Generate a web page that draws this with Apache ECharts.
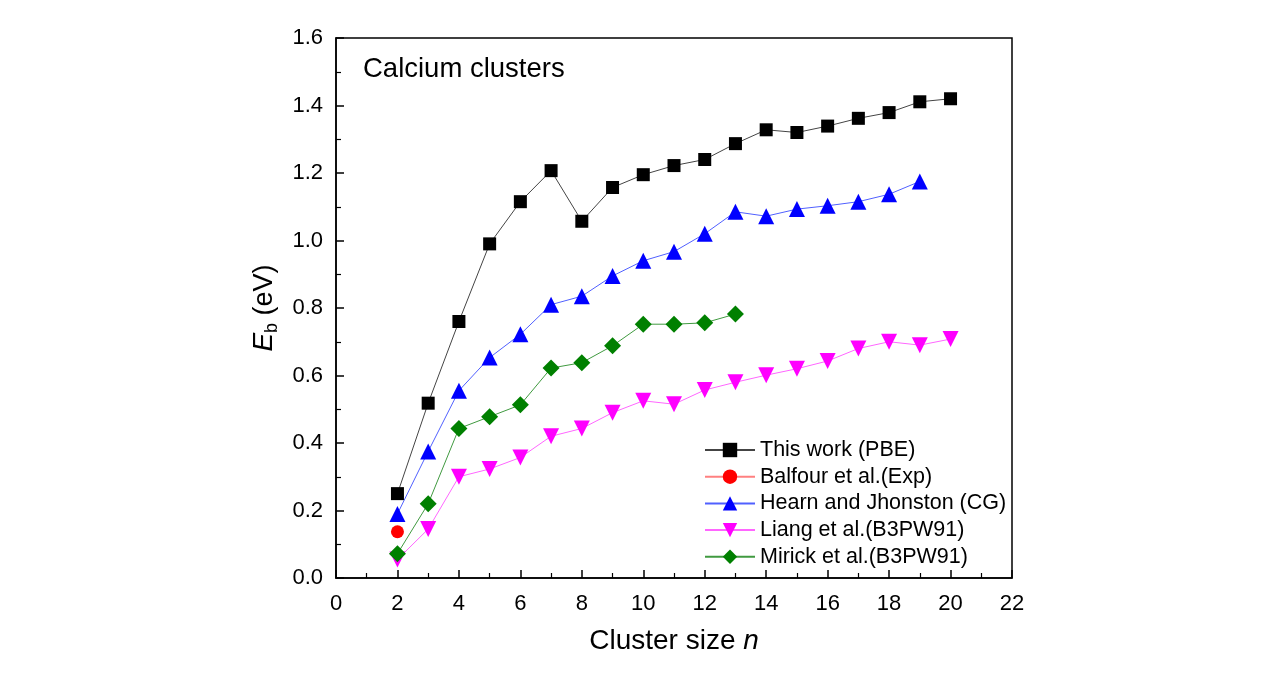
<!DOCTYPE html>
<html>
<head>
<meta charset="utf-8">
<script src="https://cdn.jsdelivr.net/npm/echarts@6/dist/echarts.min.js"></script>
<style>
  html, body { margin: 0; padding: 0; background: #fff; }
  #chart { width: 1271px; height: 673px; }
</style>
</head>
<body>
<div id="chart"></div>
<script>
// cluster sizes n
const sizes = [2, 3, 4, 5, 6, 7, 8, 9, 10, 11, 12, 13, 14, 15, 16, 17, 18, 19, 20];
// binding energies (eV)
const thisWork = [0.25, 0.518, 0.76, 0.99, 1.115, 1.207, 1.057, 1.157, 1.195, 1.222, 1.24, 1.287, 1.328, 1.32, 1.339, 1.362, 1.379, 1.411, 1.42];
const balfour = [0.137];
const hearn = [0.19, 0.375, 0.555, 0.653, 0.722, 0.81, 0.835, 0.895, 0.94, 0.967, 1.02, 1.085, 1.072, 1.093, 1.103, 1.115, 1.137, 1.175];
const liang = [0.055, 0.145, 0.30, 0.323, 0.357, 0.42, 0.443, 0.49, 0.525, 0.515, 0.557, 0.58, 0.601, 0.62, 0.643, 0.68, 0.70, 0.69, 0.708];
const mirick = [0.072, 0.22, 0.443, 0.478, 0.513, 0.622, 0.638, 0.688, 0.752, 0.752, 0.756, 0.782];

const pair = (vals) => vals.map((v, i) => [sizes[i], v]);

const font = "Liberation Sans, Arial, sans-serif";
let chart = echarts.init(document.getElementById("chart"));

chart.setOption({
  animation: false,
  textStyle: { fontFamily: font, color: "#000" },
  title: {
    text: "Calcium clusters",
    left: 358,
    top: 50,
    textStyle: { fontSize: 27.5, fontWeight: "normal", color: "#000", fontFamily: font },
  },
  grid: {
    left: 336,
    right: 259,
    top: 38,
    bottom: 95,
    show: true,
    borderColor: "#000",
    borderWidth: 1.5,
  },
  legend: {
    orient: "vertical",
    left: 699,
    top: 434,
    itemWidth: 50,
    itemHeight: 18,
    itemGap: 4.7,
    textStyle: { fontSize: 21.5, color: "#000", fontFamily: font },
    data: [
      "This work (PBE)",
      "Balfour et al.(Exp)",
      "Hearn and Jhonston (CG)",
      "Liang et al.(B3PW91)",
      "Mirick et al.(B3PW91)",
    ],
  },
  xAxis: {
    type: "value",
    min: 0,
    max: 22,
    interval: 2,
    name: "Cluster size {i|n}",
    nameLocation: "middle",
    nameGap: 49,
    nameTextStyle: {
      fontSize: 28,
      color: "#000",
      fontFamily: font,
      rich: { i: { fontSize: 28, fontStyle: "italic", fontFamily: font, color: "#000" } },
    },
    axisLine: { lineStyle: { color: "#000", width: 1.5 } },
    axisTick: { inside: true, length: 8, lineStyle: { color: "#000", width: 1.5 } },
    minorTick: { show: true, splitNumber: 2, length: 5, lineStyle: { color: "#000", width: 1.2 } },
    axisLabel: { fontSize: 22, color: "#000", margin: 15, fontFamily: font },
    splitLine: { show: false },
  },
  yAxis: {
    type: "value",
    min: 0,
    max: 1.6,
    interval: 0.2,
    name: "{i|E}{s|b}{t| (eV)}",
    nameLocation: "middle",
    nameRotate: 90,
    nameGap: 37,
    nameTextStyle: {
      color: "#000",
      rich: {
        i: { fontSize: 28, fontStyle: "italic", fontFamily: font, color: "#000", lineHeight: 34, verticalAlign: "middle" },
        s: { fontSize: 18, fontFamily: font, color: "#000", lineHeight: 34, verticalAlign: "bottom", padding: [16, 0, 0, 0] },
        t: { fontSize: 27, fontFamily: font, color: "#000", lineHeight: 34, verticalAlign: "middle" },
      },
    },
    axisLine: { show: true, lineStyle: { color: "#000", width: 1.5 } },
    axisTick: { show: true, inside: true, length: 8, lineStyle: { color: "#000", width: 1.5 } },
    minorTick: { show: true, splitNumber: 2, length: 5, lineStyle: { color: "#000", width: 1.2 } },
    axisLabel: {
      fontSize: 22,
      color: "#000",
      margin: 13,
      fontFamily: font,
      formatter: (v) => v.toFixed(1),
    },
    splitLine: { show: false },
  },
  series: [
    {
      name: "This work (PBE)",
      type: "line",
      data: pair(thisWork),
      symbol: "rect",
      symbolSize: 13,
      itemStyle: { color: "#000" },
      lineStyle: { color: "#444", width: 1 },
    },
    {
      name: "Balfour et al.(Exp)",
      type: "line",
      data: pair(balfour),
      symbol: "circle",
      symbolSize: 13,
      itemStyle: { color: "#ff0000" },
      lineStyle: { color: "#ff8080", width: 1 },
    },
    {
      name: "Hearn and Jhonston (CG)",
      type: "line",
      data: pair(hearn),
      symbol: "triangle",
      symbolSize: 16,
      itemStyle: { color: "#0000ff" },
      lineStyle: { color: "#5060ff", width: 1 },
    },
    {
      name: "Liang et al.(B3PW91)",
      type: "line",
      data: pair(liang),
      symbol: "triangle",
      symbolRotate: 180,
      symbolSize: 16,
      itemStyle: { color: "#ff00ff" },
      lineStyle: { color: "#ff66ff", width: 1 },
    },
    {
      name: "Mirick et al.(B3PW91)",
      type: "line",
      data: pair(mirick),
      symbol: "diamond",
      symbolSize: 17,
      itemStyle: { color: "#008000" },
      lineStyle: { color: "#409a40", width: 1 },
    },
  ],
});
</script>
</body>
</html>
